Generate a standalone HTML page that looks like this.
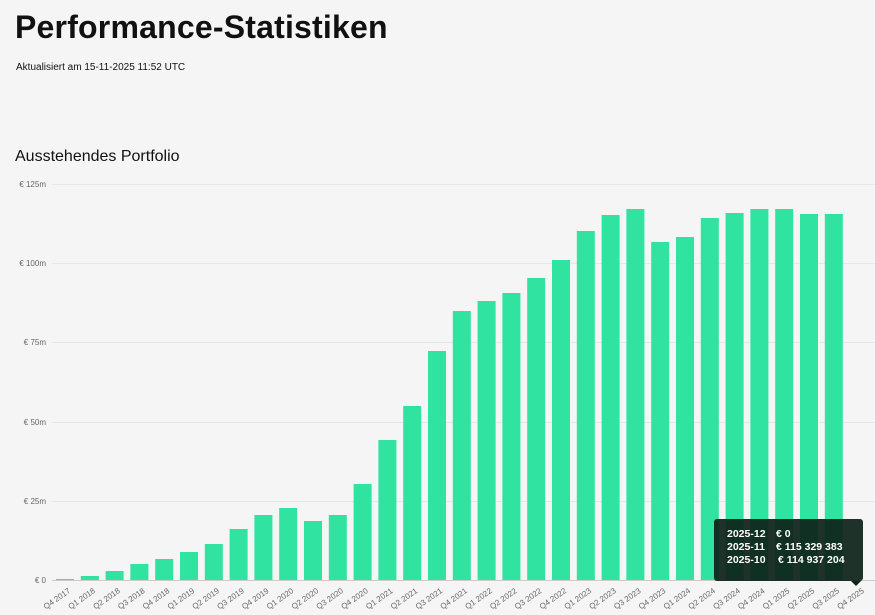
<!DOCTYPE html>
<html><head><meta charset="utf-8"><style>
body{margin:0;background:#f5f5f5;width:875px;height:615px;overflow:hidden;font-family:"Liberation Sans",sans-serif;color:#111}
h1{position:absolute;left:15px;top:9px;margin:0;font-size:32px;font-weight:bold;letter-spacing:0.2px}
.sub{position:absolute;left:16px;top:62px;font-size:10px}
.h2{position:absolute;left:15px;top:148px;font-size:16px}
svg{position:absolute;left:0;top:0}
</style></head><body>
<h1>Performance-Statistiken</h1>
<div class="sub">Aktualisiert am 15-11-2025 11:52 UTC</div>
<div class="h2">Ausstehendes Portfolio</div>
<svg width="875" height="615" xmlns="http://www.w3.org/2000/svg" font-family="Liberation Sans, sans-serif">
<g stroke="#e6e6e6" stroke-width="1">
<line x1="52" x2="875" y1="184.5" y2="184.5"/><line x1="52" x2="875" y1="263.5" y2="263.5"/>
<line x1="52" x2="875" y1="342.5" y2="342.5"/><line x1="52" x2="875" y1="422.5" y2="422.5"/>
<line x1="52" x2="875" y1="501.5" y2="501.5"/>
</g>
<line x1="52" x2="875" y1="580.5" y2="580.5" stroke="#ccc"/>
<g font-size="8" fill="#666" text-anchor="end">
<text x="46" y="187">€ 125m</text><text x="46" y="266">€ 100m</text><text x="46" y="345">€ 75m</text>
<text x="46" y="425">€ 50m</text><text x="46" y="504">€ 25m</text><text x="46" y="583">€ 0</text>
</g>
<g id="bars" fill="#30e3a0"></g>
<g id="labels" font-size="8" fill="#666" text-anchor="end"></g>
<g>
<rect x="714" y="519" width="149" height="62" rx="3" fill="#0d2219" fill-opacity="0.93"/>
<path d="M851 581 L856 586 L861 581 Z" fill="#0d2219"/>
<g font-size="10.5" font-weight="bold" fill="#fff">
<text x="727" y="537">2025-12</text><text x="776" y="537">€ 0</text>
<text x="727" y="550">2025-11</text><text x="776" y="550">€ 115 329 383</text>
<text x="727" y="563">2025-10</text><text x="778" y="563">€ 114 937 204</text>
</g></g>
</svg>
<script>
var tops=[579,576,571,564,559,552,544,529,515,508,521,515,484,440,406,351,311,301,293,278,260,231,215,209,242,237,218,213,209,209,214,214,580];
var b=document.getElementById('bars'),l=document.getElementById('labels'),ns="http://www.w3.org/2000/svg";
for(var i=0;i<tops.length;i++){
 var x=56+i*24.8;
 if(tops[i]<580){var r=document.createElementNS(ns,'rect');r.setAttribute('x',x);r.setAttribute('y',tops[i]);r.setAttribute('width',18);r.setAttribute('height',580-tops[i]);b.appendChild(r);}
 var q=(i+3)%4+1,y=2017+Math.floor((i+3)/4);
 var t=document.createElementNS(ns,'text');var cx=x+15,cy=592;
 t.setAttribute('x',cx);t.setAttribute('y',cy);t.setAttribute('transform','rotate(-35 '+cx+' '+cy+')');
 t.textContent='Q'+q+' '+y;l.appendChild(t);
}
</script>
</body></html>
